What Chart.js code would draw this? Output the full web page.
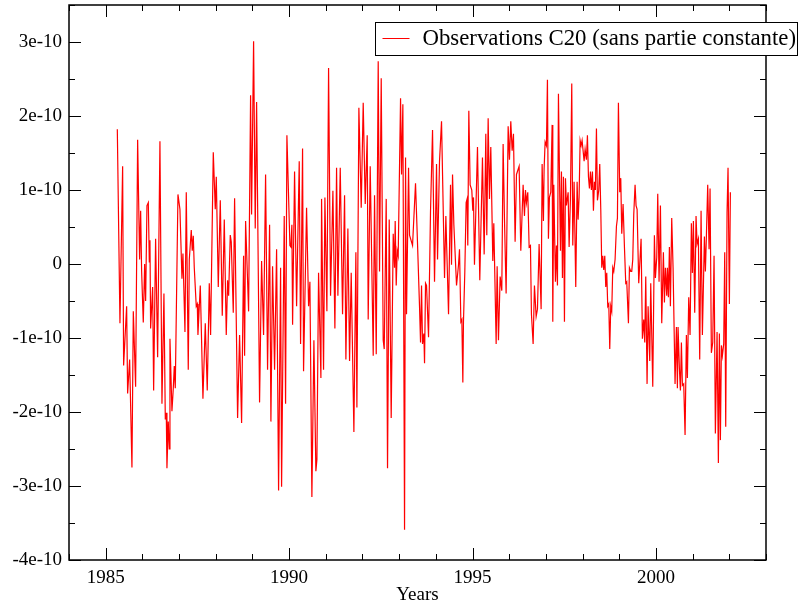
<!DOCTYPE html>
<html>
<head>
<meta charset="utf-8">
<script src="https://cdn.jsdelivr.net/npm/chart.js@4.4.1/dist/chart.umd.min.js"></script>
<style>
  html, body { margin: 0; padding: 0; background: #fff; }
  canvas { display: block; }
</style>
</head>
<body>
<canvas id="c20Chart" width="799" height="606"></canvas>
<script>
// C20 observations (constant part removed), values in units of 1e-10
const years = [
  1985.317, 1985.389, 1985.462, 1985.489, 1985.571, 1985.598, 1985.653, 1985.716, 1985.753, 1985.816,
  1985.871, 1985.925, 1985.953, 1985.980, 1986.025, 1986.062, 1986.089, 1986.125, 1986.162, 1986.189,
  1986.207, 1986.225, 1986.280, 1986.307, 1986.361, 1986.416, 1986.479, 1986.534, 1986.588, 1986.625,
  1986.652, 1986.670, 1986.706, 1986.734, 1986.752, 1986.806, 1986.843, 1986.870, 1986.897, 1986.970,
  1987.024, 1987.079, 1987.106, 1987.161, 1987.197, 1987.251, 1987.279, 1987.333, 1987.360, 1987.388,
  1987.415, 1987.469, 1987.497,
  1987.515, 1987.579, 1987.651, 1987.715, 1987.769, 1987.824, 1987.860, 1987.933, 1987.987, 1988.015,
  1988.069, 1988.124, 1988.178, 1988.233, 1988.287, 1988.323, 1988.351, 1988.396, 1988.423, 1988.478,
  1988.514, 1988.596, 1988.650, 1988.705, 1988.759, 1988.787, 1988.814, 1988.896, 1988.950, 1988.977,
  1989.032, 1989.077, 1989.114, 1989.195, 1989.250, 1989.304, 1989.359, 1989.413, 1989.468, 1989.504,
  1989.549, 1989.604, 1989.659, 1989.713, 1989.768, 1989.795, 1989.867, 1989.904, 1989.940,
  1990.022, 1990.049, 1990.076, 1990.095, 1990.149, 1990.204, 1990.276, 1990.313, 1990.367, 1990.394,
  1990.476, 1990.531, 1990.567, 1990.621, 1990.676, 1990.730, 1990.758, 1990.803, 1990.867, 1990.885,
  1990.939, 1990.976, 1991.030, 1991.076, 1991.130, 1991.194, 1991.248, 1991.294, 1991.330, 1991.394,
  1991.457, 1991.512, 1991.548, 1991.602, 1991.648, 1991.693, 1991.766, 1991.820, 1991.848, 1991.902,
  1991.966, 1992.020, 1992.075, 1992.129, 1992.156, 1992.211, 1992.293, 1992.329,
  1992.375, 1992.429, 1992.465, 1992.511, 1992.565, 1992.593, 1992.647, 1992.683, 1992.729, 1992.783,
  1992.838, 1992.874, 1992.892, 1992.920, 1992.947, 1992.974, 1993.038, 1993.065, 1993.101, 1993.147,
  1993.174, 1993.201, 1993.256, 1993.283, 1993.365, 1993.446, 1993.501, 1993.555, 1993.583, 1993.610,
  1993.637, 1993.673, 1993.692, 1993.719, 1993.746, 1993.801, 1993.855, 1993.910, 1993.964, 1994.019,
  1994.046, 1994.100, 1994.155, 1994.237, 1994.273, 1994.346, 1994.400, 1994.427, 1994.455, 1994.491,
  1994.564, 1994.618, 1994.645, 1994.682, 1994.709, 1994.736,
  1994.753, 1994.790, 1994.826, 1994.853, 1994.871, 1994.899, 1994.935, 1994.980, 1995.008, 1995.026,
  1995.053, 1995.135, 1995.198, 1995.271, 1995.317, 1995.362, 1995.389, 1995.426, 1995.462, 1995.498,
  1995.553, 1995.580, 1995.644, 1995.671, 1995.707, 1995.753, 1995.798, 1995.834, 1995.871, 1995.916,
  1995.971, 1996.007, 1996.043, 1996.080, 1996.116, 1996.161, 1996.198, 1996.270, 1996.316, 1996.379,
  1996.416, 1996.443, 1996.470, 1996.506, 1996.543, 1996.579, 1996.606, 1996.652, 1996.688, 1996.734,
  1996.770, 1996.815, 1996.870, 1996.897, 1996.933, 1996.951, 1996.979, 1997.015, 1997.042, 1997.069,
  1997.096, 1997.133,
  1997.170, 1997.188, 1997.215, 1997.260, 1997.288, 1997.315, 1997.342, 1997.397, 1997.424, 1997.451,
  1997.478, 1997.506, 1997.533, 1997.560, 1997.606, 1997.633, 1997.669, 1997.705, 1997.733, 1997.769,
  1997.814, 1997.851, 1997.878, 1997.905, 1997.933, 1997.960, 1997.987, 1998.014, 1998.042, 1998.069,
  1998.105, 1998.132, 1998.160, 1998.187, 1998.214, 1998.241, 1998.269, 1998.296, 1998.323, 1998.350,
  1998.378, 1998.405, 1998.441, 1998.468, 1998.496, 1998.523, 1998.550, 1998.577, 1998.605, 1998.632,
  1998.659, 1998.686, 1998.714, 1998.741, 1998.768, 1998.795, 1998.823, 1998.850, 1998.886, 1998.923,
  1998.950, 1998.977, 1999.013, 1999.041, 1999.068, 1999.104, 1999.141, 1999.177, 1999.204, 1999.250,
  1999.277, 1999.313, 1999.340, 1999.368, 1999.395, 1999.431, 1999.458, 1999.486, 1999.531,
  1999.595, 1999.631, 1999.667, 1999.695, 1999.722, 1999.758, 1999.786, 1999.831, 1999.858, 1999.913,
  1999.958, 1999.985, 2000.022, 2000.049, 2000.085, 2000.122, 2000.158, 2000.203, 2000.231, 2000.258,
  2000.294, 2000.312, 2000.340, 2000.367, 2000.394, 2000.430, 2000.467, 2000.521, 2000.558, 2000.585,
  2000.603, 2000.639, 2000.667, 2000.694, 2000.721, 2000.757, 2000.794, 2000.830, 2000.857, 2000.894,
  2000.930, 2000.966, 2000.994, 2001.021, 2001.057, 2001.093, 2001.121, 2001.157, 2001.193, 2001.230,
  2001.266, 2001.321, 2001.348, 2001.375, 2001.411, 2001.448, 2001.475, 2001.511, 2001.548, 2001.584,
  2001.620, 2001.666, 2001.702, 2001.729, 2001.757, 2001.784, 2001.811, 2001.847, 2001.875, 2001.902,
  2001.938, 2001.965, 2002.002, 2002.029
];

const c20 = [
  1.82, -0.80, 1.32, -1.37, -0.57, -1.75, -1.29, -2.75, -0.64, -1.66,
  1.68, 0.06, 0.72, -0.10, -0.79, 0.00, -0.50, 0.79, 0.83, 0.03,
  0.32, -0.87, -0.31, -1.71, 0.34, -1.26, 1.66, -1.89, -0.40, -2.10,
  -2.01, -2.76, -2.13, -2.50, -1.01, -1.99, -1.68, -1.38, -1.68, 0.94,
  0.74, -0.20, 0.14, -0.92, 0.97, -1.43, 0.06, 0.46, 0.18, 0.38,
  -0.05, -0.57, -0.54,
  -0.96, -0.29, -1.82, -0.80, -1.71, -0.26, -0.96, 1.51, 0.74, 1.18,
  -0.31, 0.86, -0.70, 0.60, -0.96, -0.22, -0.43, 0.39, 0.30, -0.66,
  0.89, -2.08, -0.96, -2.15, 0.11, -1.24, 0.58, -0.64, 2.28, 0.67,
  3.01, 0.48, 2.19, -1.87, 0.04, -0.96, 1.21, -1.43, 0.53, -2.13,
  -0.03, -1.43, 0.20, -3.06, -0.05, -3.01, 0.65, -1.89, 1.74,
  0.25, 0.23, 0.53, -0.82, 1.25, -0.57, 1.39, -1.08, 1.56, -1.45,
  0.76, -0.57, -0.24, -3.15, -1.03, -2.80, -2.64, -0.12, -1.54, 0.88,
  -1.43, 0.90, -0.64, 2.65, -0.43, 0.99, -0.87, 1.30, -0.43, 1.30,
  -0.68, 0.93, -1.29, 0.48, -1.31, -0.12, -2.27, 0.16, -1.94, 2.11,
  0.76, 2.18, 0.81, 1.74, -0.75, 1.32, -1.24, 0.93,
  -1.22, 2.74, -0.10, 2.51, -1.03, -1.15, 0.88, -2.76, 0.60, -2.08,
  0.41, -0.05, 0.58, -0.29, 0.18, 0.11, 2.24, 1.21, 2.16, -3.59,
  1.44, -0.68, 1.30, 0.39, 0.25, 1.09, 0.27, -0.57, -1.06, -0.29,
  -1.08, -0.94, -1.34, -0.26, -0.29, -0.99, 0.72, 1.81, -0.24, 1.35,
  0.06, 1.39, 1.93, -0.19, 0.65, -0.68, 1.07, -0.01, 1.21, 0.53,
  -0.29, -0.01, 0.20, -0.78, -0.75, -1.60,
  -0.78, -0.10, 0.83, 0.88, 0.25, 2.07, 1.07, 1.00, 0.72, 0.90,
  -0.01, 1.58, -0.22, 1.44, 0.13, 1.76, 0.39, 1.97, 0.88, 1.58,
  0.04, 0.55, -1.08, -0.03, -1.03, -0.17, -0.36, 1.62, 0.60, -0.40,
  1.86, 1.41, 1.93, 1.53, 1.76, 0.30, 1.21, 1.32, 0.18, 1.07,
  0.65, 1.00, 0.83, 0.97, 0.23, 0.25, -0.68, -1.08, -0.29, -0.71,
  -0.61, 0.27, -0.61, 1.35, 0.58, 1.28, 1.65, 1.60, 2.49, 0.34,
  0.90, 0.97,
  1.88, -0.78, 1.07, -0.24, 0.25, -0.29, 2.30, 0.18, 1.25, -0.19,
  1.18, -0.78, 1.16, 0.79, 0.97, 0.23, 0.88, 2.44, 0.25, 1.11,
  -0.31, 1.11, 0.60, 0.90, 1.67, 1.60, 1.67, 1.53, 1.39, 1.55,
  1.41, 1.74, 1.18, 1.02, 1.25, 1.00, 1.25, 0.72, 1.11, 1.00,
  1.83, 0.86, 1.00, 1.35, 0.74, -0.05, 0.11, -0.08, 0.11, -0.31,
  -0.12, -0.57, -0.54, -1.15, -0.57, -0.64, -0.05, -0.10, 0.06, 0.51,
  0.62, 2.18, 0.97, 1.16, 0.41, 0.81, 0.23, -0.26, -0.24, -0.80,
  -0.05, -0.10, -0.10, 0.06, 0.67, 1.07, 0.79, 0.74, -0.26,
  0.34, -1.01, -0.75, -1.06, -0.17, -1.62, -0.57, -1.31, -0.26, -1.66,
  0.39, -0.19, 0.09, 0.95, -0.24, 0.79, -0.80, 0.16, -0.52, -0.05,
  -0.43, -0.05, -0.45, 0.23, -0.57, 0.62, -0.05, -1.62, -0.85, -1.68,
  -0.85, -1.41, -1.71, -1.06, -1.64, -1.62, -2.31, -0.96, -1.54, -0.45,
  -0.96, 0.55, -0.12, 0.58, -0.66, 0.65, 0.27, 0.34, -1.29, 0.72,
  -0.96, 0.37, -0.10, 0.37, 1.07, 0.20, 1.02, -1.20, -1.06, 0.11,
  -2.29, -0.92, -2.69, -0.94, -2.38, -1.10, -1.24, -1.08, 0.16, -2.20,
  0.69, 1.30, -0.54, 0.97
];

const xTicks = [1985, 1990, 1995, 2000];
const yTicks = [-4, -3, -2, -1, 0, 1, 2, 3]; // x 1e-10
const seriesLabel = 'Observations C20 (sans partie constante)';

if (years.length !== c20.length) console.warn('length mismatch', years.length, c20.length);

const serif = "'Liberation Serif', 'Times New Roman', serif";

// inward ticks on the four sides + frame + legend box
const framePlugin = {
  id: 'frame',
  beforeDraw(chart) {
    const ctx = chart.ctx;
    ctx.save();
    ctx.fillStyle = '#fff';
    ctx.fillRect(0, 0, chart.width, chart.height);
    ctx.restore();
  },
  afterDraw(chart) {
    const ctx = chart.ctx;
    const a = chart.chartArea;
    const x = chart.scales.x, y = chart.scales.y;
    ctx.save();
    ctx.strokeStyle = '#000';
    ctx.lineWidth = 1;
    ctx.beginPath();
    for (let yr = Math.ceil(x.min); yr <= x.max; yr++) {
      const px = Math.round(x.getPixelForValue(yr)) + 0.5;
      const len = yr % 5 === 0 ? 12 : 6;
      ctx.moveTo(px, a.bottom); ctx.lineTo(px, a.bottom - len);
      ctx.moveTo(px, a.top); ctx.lineTo(px, a.top + len);
    }
    for (let k = -8; k <= 7; k++) {
      const py = Math.round(y.getPixelForValue(k * 0.5e-10)) + 0.5;
      const len = k % 2 === 0 ? 12 : 6;
      ctx.moveTo(a.left, py); ctx.lineTo(a.left + len, py);
      ctx.moveTo(a.right, py); ctx.lineTo(a.right - len, py);
    }
    ctx.stroke();
    ctx.lineWidth = 1.5;
    ctx.strokeRect(a.left, a.top, a.right - a.left, a.bottom - a.top);

    // legend
    const ds = chart.data.datasets[0];
    const bx = 375.5, by = 22.5, bw = 422, bh = 33;
    ctx.fillStyle = '#fff';
    ctx.fillRect(bx, by, bw, bh);
    ctx.lineWidth = 1;
    ctx.strokeRect(bx, by, bw, bh);
    ctx.strokeStyle = ds.borderColor;
    ctx.beginPath();
    ctx.moveTo(bx + 7, by + 16); ctx.lineTo(bx + 34, by + 16);
    ctx.stroke();
    ctx.fillStyle = '#000';
    ctx.font = '22.8px ' + serif;
    ctx.textBaseline = 'middle';
    ctx.fillText(ds.label, bx + 47, by + 16.5);
    ctx.restore();
  }
};

const ctx = document.getElementById('c20Chart').getContext('2d');

const c20Chart = new Chart(ctx, {
  type: 'line',
  data: {
    datasets: [{
      label: seriesLabel,
      data: years.map((t, i) => ({ x: t, y: c20[i] * 1e-10 })),
      borderColor: '#ff0000',
      borderWidth: 1.2,
      pointRadius: 0,
      tension: 0,
      fill: false
    }]
  },
  options: {
    responsive: false,
    animation: false,
    devicePixelRatio: 1,
    layout: { padding: { left: 0, right: 33, top: 5, bottom: 0 } },
    plugins: { legend: { display: false }, tooltip: { enabled: false } },
    scales: {
      x: {
        type: 'linear',
        min: 1984,
        max: 2003,
        grid: { display: false, drawTicks: false },
        border: { display: false },
        afterBuildTicks: s => { s.ticks = xTicks.map(v => ({ value: v })); },
        afterFit: s => { s.height = 46; s.paddingLeft = 0; s.paddingRight = 0; },
        ticks: {
          padding: 7,
          maxRotation: 0,
          color: '#000',
          font: { family: serif, size: 19 },
          callback: v => String(v)
        },
        title: {
          display: true,
          text: 'Years',
          color: '#000',
          padding: 0,
          font: { family: serif, size: 19 }
        }
      },
      y: {
        type: 'linear',
        min: -4e-10,
        max: 3.5e-10,
        grid: { display: false, drawTicks: false },
        border: { display: false },
        afterBuildTicks: s => { s.ticks = yTicks.map(v => ({ value: v * 1e-10 })); },
        afterFit: s => { s.width = 69; s.paddingTop = 0; s.paddingBottom = 0; },
        ticks: {
          padding: 7,
          color: '#000',
          font: { family: serif, size: 19 },
          callback: v => {
            const n = Math.round(v * 1e10);
            return n === 0 ? '0' : n + 'e-10';
          }
        }
      }
    }
  },
  plugins: [framePlugin]
});
</script>
</body>
</html>
